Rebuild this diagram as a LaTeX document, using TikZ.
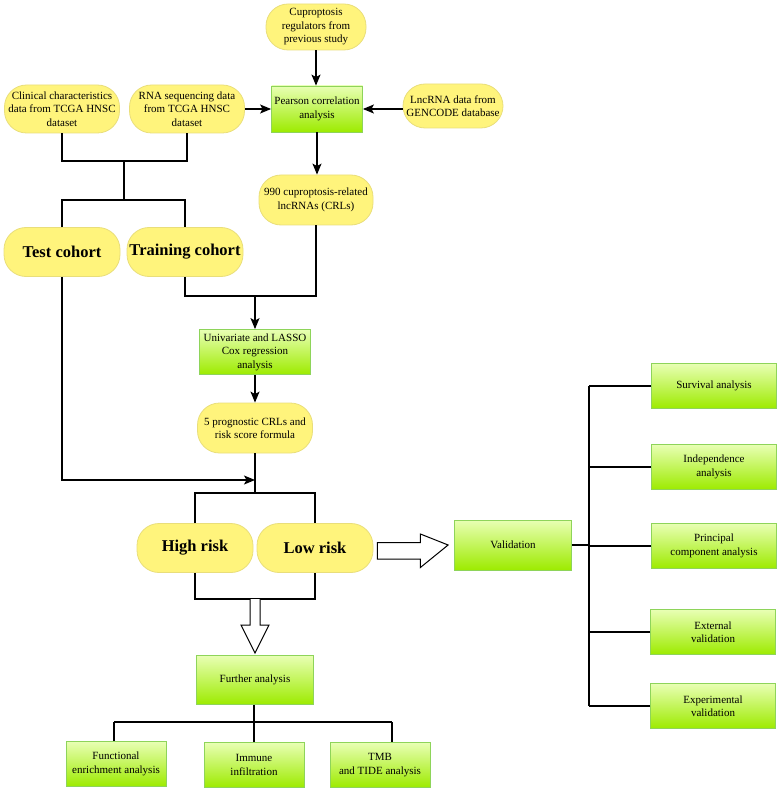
\documentclass[tikz,border=0pt]{standalone}
\usepackage{fontspec}
\setmainfont{Liberation Serif}
\usetikzlibrary{arrows.meta,calc}
\definecolor{pillfill}{HTML}{FFF47C}
\definecolor{pilledge}{HTML}{E9DE7A}
\definecolor{gtop}{HTML}{E8FFB4}
\definecolor{gbot}{HTML}{9DEB00}
\definecolor{gedge}{HTML}{8ED45A}

\begin{document}
\begin{tikzpicture}[x=1pt,y=-1pt,line width=1.3pt,
  pill/.style={fill=pillfill,draw=pilledge,line width=0.8pt,rounded corners=22pt,
    align=center,inner sep=2pt,font=\fontsize{11}{13.5}\selectfont},
  bigpill/.style={pill,minimum width=116pt,minimum height=49pt,
    font=\fontsize{16.5}{18}\selectfont\bfseries},
  gbox/.style={top color=gtop,bottom color=gbot,draw=gedge,line width=0.8pt,
    align=center,inner sep=2pt,font=\fontsize{11}{13.5}\selectfont},
  subbox/.style={gbox,minimum width=125pt,minimum height=45pt},
  lowbox/.style={gbox,minimum width=100pt,minimum height=45pt},
  arr/.style={-{Stealth[length=11pt,width=9pt,inset=2.5pt]}},
  hollow/.style={draw,fill=white,line width=1pt,line join=miter}]

\useasboundingbox (0,0) rectangle (782,794);

% inputs
\node[pill,minimum width=100pt,minimum height=46pt] (cupro) at (316,27) {Cuproptosis\\regulators from\\previous study};
\node[gbox,minimum width=91pt,minimum height=46pt] (pearson) at (317,109) {Pearson correlation\\analysis};
\node[pill,minimum width=115pt,minimum height=48pt] (clin) at (62,109) {Clinical characteristics\\data from TCGA HNSC\\dataset};
\node[pill,minimum width=115pt,minimum height=48pt] (rna) at (187,109) {RNA sequencing data\\from TCGA HNSC\\dataset};
\node[pill,minimum width=100pt,minimum height=44pt] (lnc) at (453,106) {LncRNA data from\\GENCODE database};
\node[pill,minimum width=114pt,minimum height=50pt] (crl) at (316,200) {990 cuproptosis-related\\lncRNAs (CRLs)};

% cohorts and model
\node[bigpill] (test) at (62,252) {Test cohort};
\node[bigpill] (train) at (185,252) {Training cohort};
\node[gbox,minimum width=111pt,minimum height=45pt] (cox) at (255,352) {Univariate and LASSO\\Cox regression\\analysis};
\node[pill,minimum width=115pt,minimum height=50pt] (prog) at (255,428) {5 prognostic CRLs and\\risk score formula};
\node[bigpill] (high) at (195,548) {High risk};
\node[bigpill] (low) at (315,548) {Low risk};

% validation
\node[gbox,minimum width=117pt,minimum height=50pt] (valid) at (513,545) {Validation};
\node[subbox] (surv) at (714,386) {Survival analysis};
\node[subbox] (indep) at (714,467) {Independence\\analysis};
\node[subbox] (pca) at (714,546) {Principal\\component analysis};
\node[subbox] (ext) at (713,632) {External\\validation};
\node[subbox] (expt) at (713,706) {Experimental\\validation};

% further analysis
\node[gbox,minimum width=117pt,minimum height=49pt] (further) at (255,680) {Further analysis};
\node[lowbox] (func) at (116,764) {Functional\\enrichment analysis};
\node[lowbox] (immune) at (254,765) {Immune\\infiltration};
\node[lowbox] (tmb) at (380,765) {TMB\\and TIDE analysis};

\coordinate (dataj) at (124,161);
\coordinate (cohj) at (124,200);
\coordinate (coxj) at (255,296);
\coordinate (riskj) at (255,480);
\coordinate (splitj) at (255,493);
\coordinate (mergej) at (255,599);
\coordinate (vbus) at (589,545);
\coordinate (fbus) at (254,722);
\coordinate (fbusl) at (114,722);
\coordinate (fbusr) at (392,722);

\draw[arr] (cupro.south) -- (cupro.south |- pearson.north);
\draw[arr] (rna) -- (pearson);
\draw[arr] (lnc.west |- pearson) -- (pearson);
\draw[arr] (pearson.south) -- (pearson.south |- crl.north);

\draw (clin.south) |- (dataj) -| (rna.south);
\draw (dataj) -- (cohj);
\draw (test.north) |- (cohj) -| (train.north);

\draw (train.south) |- (coxj) -| (crl.south);
\draw[arr] (coxj) -- (cox.north);
\draw[arr] (cox) -- (prog);
\draw[arr] (test.south) |- (riskj);
\draw (prog.south) -- (splitj);
\draw (high.north) |- (splitj) -| (low.north);
\draw (high.south) |- (mergej) -| (low.south);

% hollow arrows
\draw[hollow] ($(low.east)+(4,-5.5)$) -- ++(43,0) -- ++(0,-8.5) -- ($(valid.west)+(-6,0)$)
  -- ($(low.east)+(47,19.5)$) -- ++(0,-8.5) -- ++(-43,0) -- cycle;
\draw[hollow] ($(mergej)+(-5,0)$) -- ++(0,26) -- ++(-9,0) -- ($(further.north)+(0,-2)$)
  -- ($(mergej)+(14,26)$) -- ++(-9,0) -- ++(0,-26);

\draw (valid) -- (vbus);
\draw (vbus |- surv) -- (vbus |- expt);
\foreach \b in {surv,indep,pca,ext,expt}
  \draw (\b.west) -- (\b.west -| vbus);

\draw (further.south -| fbus) -- (immune.north -| fbus);
\draw (fbusl) -- (fbusr);
\draw (fbusl) -- (fbusl |- func.north);
\draw (fbusr) -- (fbusr |- tmb.north);

\end{tikzpicture}
\end{document}
